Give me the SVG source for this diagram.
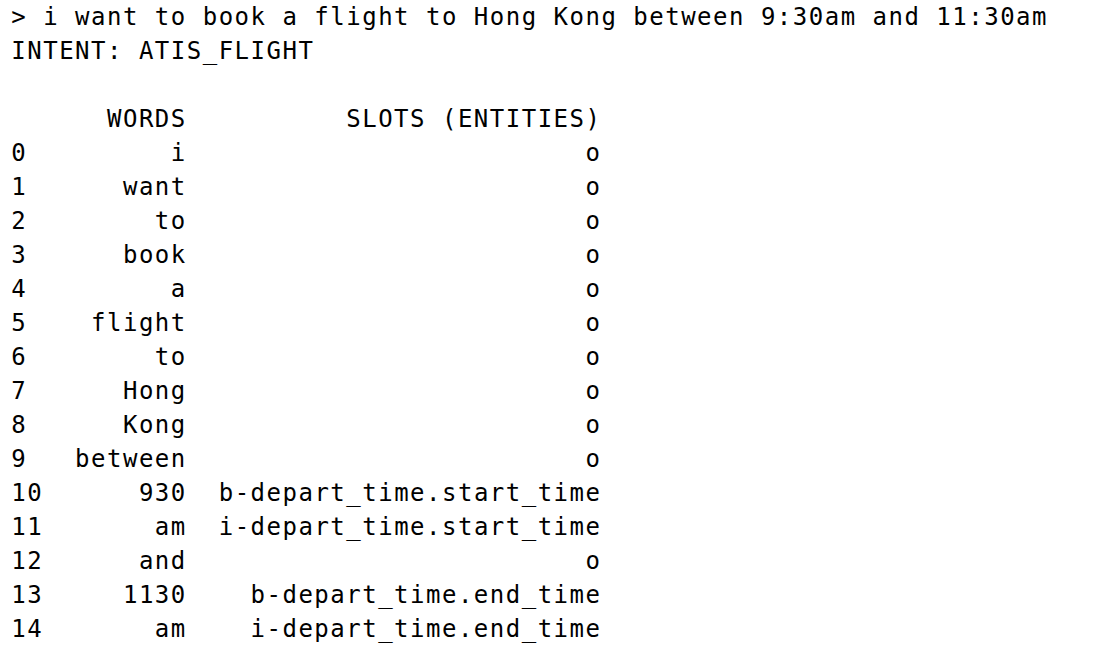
<svg xmlns="http://www.w3.org/2000/svg" width="1094" height="660" viewBox="0 0 1094 660">
<style>
text{font-family:"DejaVu Sans Mono","Liberation Mono",monospace;font-size:24px;letter-spacing:1.5px;fill:#000;white-space:pre}
</style>
<rect width="1094" height="660" fill="#fff"/>
<g id="prompt">
<text x="11.3" y="25">&gt; i want to book a flight to Hong Kong between 9:30am and 11:30am</text>
<text x="11.3" y="59">INTENT: ATIS_FLIGHT</text>
</g>
<g id="header">
<text x="107" y="127">WORDS</text>
<text x="346.25" y="127">SLOTS (ENTITIES)</text>
</g>
<g id="index">
<text x="11.3" y="161">0</text>
<text x="11.3" y="195">1</text>
<text x="11.3" y="229">2</text>
<text x="11.3" y="263">3</text>
<text x="11.3" y="297">4</text>
<text x="11.3" y="331">5</text>
<text x="11.3" y="365">6</text>
<text x="11.3" y="399">7</text>
<text x="11.3" y="433">8</text>
<text x="11.3" y="467">9</text>
<text x="11.3" y="501">10</text>
<text x="11.3" y="535">11</text>
<text x="11.3" y="569">12</text>
<text x="11.3" y="603">13</text>
<text x="11.3" y="637">14</text>
</g>
<g id="words">
<text x="170.8" y="161">i</text>
<text x="122.95" y="195">want</text>
<text x="154.85" y="229">to</text>
<text x="122.95" y="263">book</text>
<text x="170.8" y="297">a</text>
<text x="91.05" y="331">flight</text>
<text x="154.85" y="365">to</text>
<text x="122.95" y="399">Hong</text>
<text x="122.95" y="433">Kong</text>
<text x="75.1" y="467">between</text>
<text x="138.9" y="501">930</text>
<text x="154.85" y="535">am</text>
<text x="138.9" y="569">and</text>
<text x="122.95" y="603">1130</text>
<text x="154.85" y="637">am</text>
</g>
<g id="slots">
<text x="585.5" y="161">o</text>
<text x="585.5" y="195">o</text>
<text x="585.5" y="229">o</text>
<text x="585.5" y="263">o</text>
<text x="585.5" y="297">o</text>
<text x="585.5" y="331">o</text>
<text x="585.5" y="365">o</text>
<text x="585.5" y="399">o</text>
<text x="585.5" y="433">o</text>
<text x="585.5" y="467">o</text>
<text x="218.7" y="501">b-depart_time.start_time</text>
<text x="218.7" y="535">i-depart_time.start_time</text>
<text x="585.5" y="569">o</text>
<text x="250.55" y="603">b-depart_time.end_time</text>
<text x="250.55" y="637">i-depart_time.end_time</text>
</g>
</svg>
